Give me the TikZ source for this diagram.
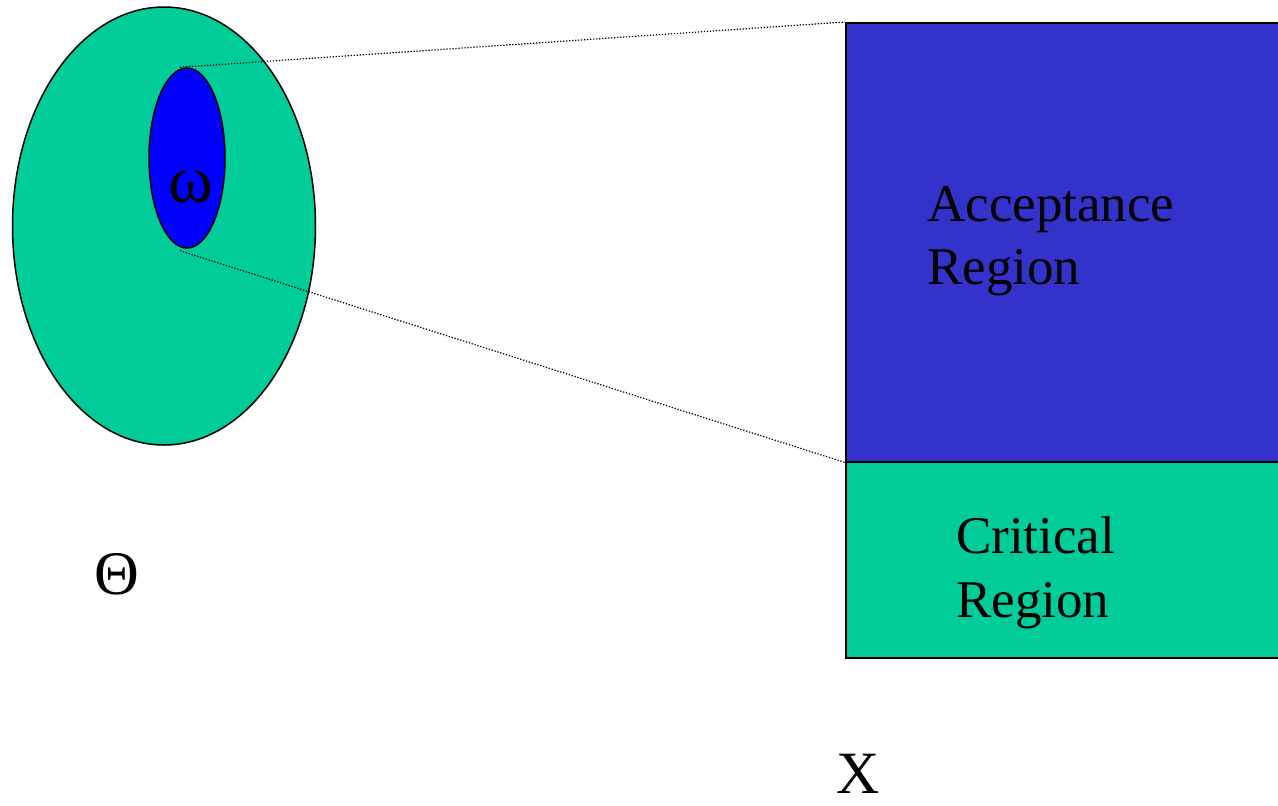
\documentclass[tikz,border=0pt]{standalone}
\usepackage{fontspec}
\setmainfont{Liberation Serif}
\usetikzlibrary{shapes.geometric}
\definecolor{regiongreen}{RGB}{0,204,153}
\definecolor{regionblue}{RGB}{51,51,204}
\definecolor{omegablue}{RGB}{0,0,255}
\tikzset{
  outline/.style={draw=black, line width=1.5pt},
  region/.style={outline, rectangle, inner sep=0pt, anchor=north west},
  blob/.style={outline, ellipse, inner sep=0pt},
  lbl/.style={inner sep=0pt, font=\fontsize{53}{63.5}\selectfont, align=left},
  zoomline/.style={line width=1.2pt, dash pattern=on 1.3pt off 1.7pt}
}
\begin{document}
\begin{tikzpicture}[x=1pt,y=-1pt]
\useasboundingbox (0,0) rectangle (1278,806);
\clip (0,0) rectangle (1278,806);
% parameter space
\node[blob, fill=regiongreen, minimum width=303pt, minimum height=438pt] (Theta) at (164,226) {};
\node[blob, fill=omegablue, minimum width=76pt, minimum height=180pt] (small) at (187,158) {};
\node[inner sep=0pt, anchor=base, font=\fontsize{68}{70}\selectfont] (omega) at (191,202) {ω};
\node[inner sep=0pt, anchor=base, font=\fontsize{62}{66}\selectfont] (thetalbl) at (117,594) {Θ};
% sample space
\node[region, fill=regionblue, minimum width=445pt, minimum height=439pt] (accept) at (845,22) {};
\node[region, fill=regiongreen, minimum width=445pt, minimum height=196pt] (crit) at (845,461) {};
\node[lbl, anchor=north west] (accepttxt) at (927,186) {Acceptance\\Region};
\node[lbl, anchor=north west] (crittxt) at (956,517) {Critical\\Region};
\node[inner sep=0pt, anchor=base, font=\fontsize{60}{64}\selectfont] (Xlbl) at (858,793) {X};
% zoom lines
\draw[zoomline] (small.north) ++(-7,0) coordinate (stop) -- (accept.north west);
\draw[zoomline] (small.south) ++(-7,2) coordinate (sbot) -- (accept.south west);
\end{tikzpicture}
\end{document}
